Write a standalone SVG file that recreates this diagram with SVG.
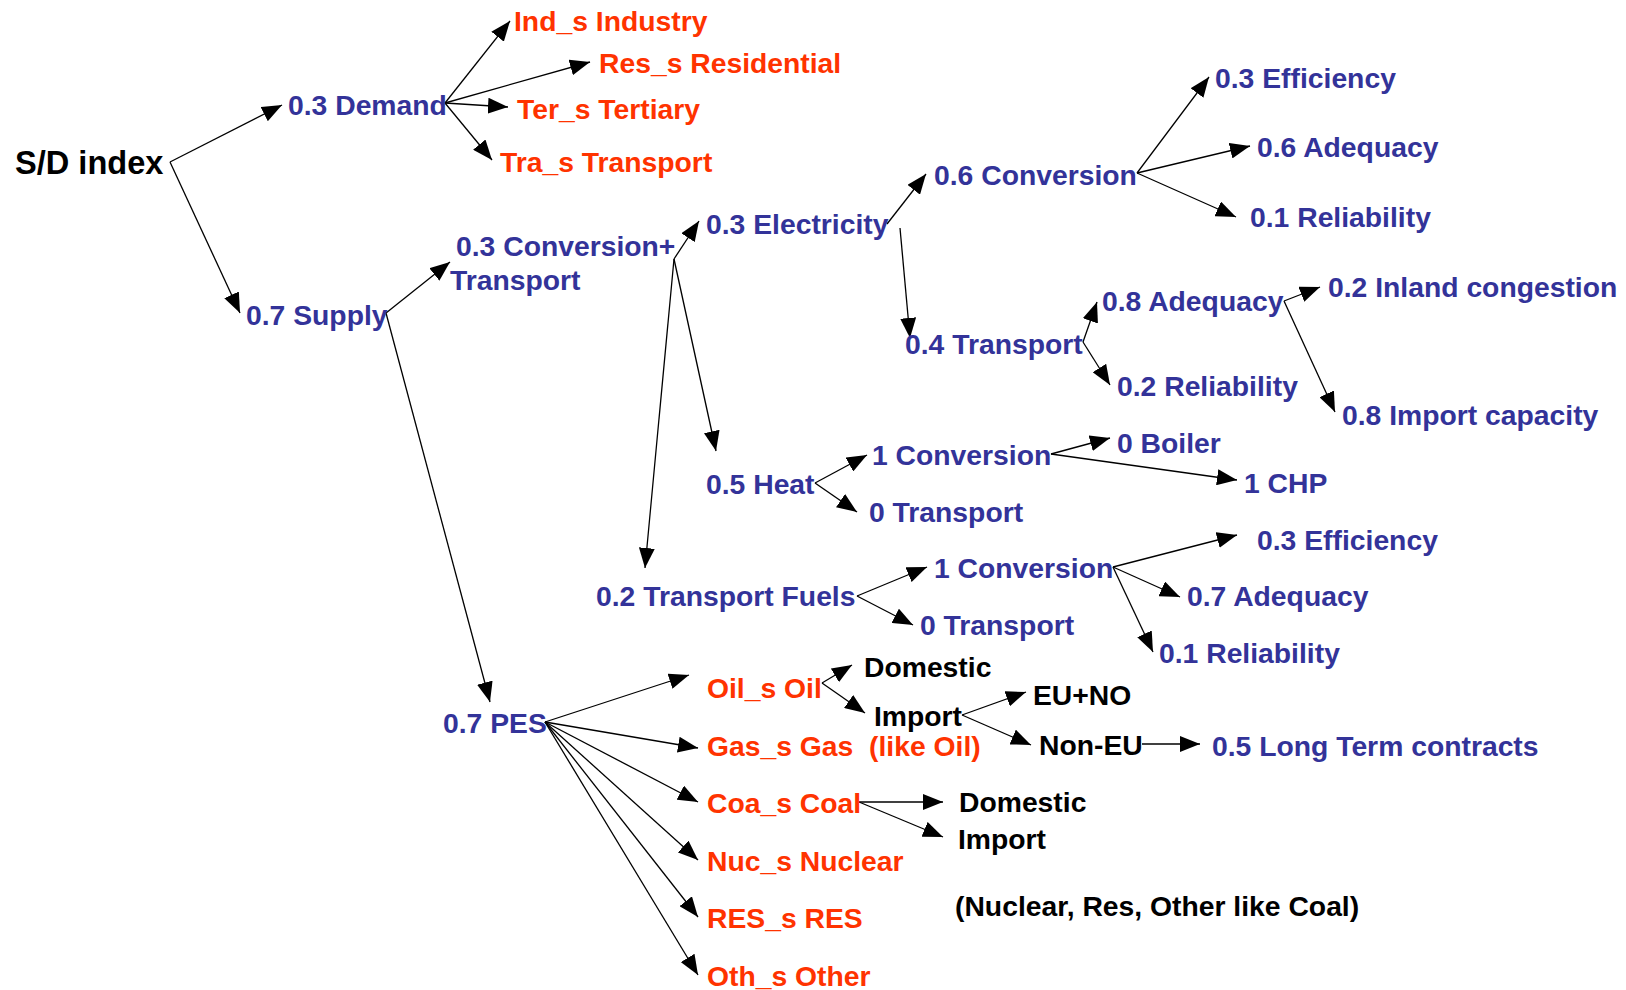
<svg xmlns="http://www.w3.org/2000/svg" width="1626" height="990" viewBox="0 0 1626 990">
<style>
text{font-family:"Liberation Sans",Arial,sans-serif;font-weight:bold;font-size:28.3px}
.b{fill:#333399}
.r{fill:#ff3300}
.k{fill:#000}
.e{stroke:#000;stroke-width:1.3;fill:none;marker-end:url(#ah)}
</style>
<defs>
<marker id="ah" markerUnits="userSpaceOnUse" markerWidth="20" markerHeight="16" refX="20" refY="8" orient="auto" viewBox="0 0 20 16">
<path d="M0,0 L20,8 L0,16 z" fill="#000"/>
</marker>
</defs>
<rect width="1626" height="990" fill="#fff"/>
<g id="connectors">
<line class="e" x1="170" y1="162" x2="282" y2="105"/>
<line class="e" x1="170" y1="162" x2="240" y2="313"/>
<line class="e" x1="445" y1="103" x2="510" y2="21"/>
<line class="e" x1="445" y1="103" x2="590" y2="62"/>
<line class="e" x1="445" y1="103" x2="508" y2="107"/>
<line class="e" x1="445" y1="103" x2="492" y2="160"/>
<line class="e" x1="386" y1="313" x2="450" y2="262"/>
<line class="e" x1="386" y1="313" x2="490" y2="702"/>
<line class="e" x1="674" y1="259" x2="699" y2="221"/>
<line class="e" x1="674" y1="259" x2="716" y2="451"/>
<line class="e" x1="674" y1="259" x2="645" y2="568"/>
<line class="e" x1="887" y1="224" x2="926" y2="174"/>
<line class="e" x1="900" y1="228" x2="910" y2="338"/>
<line class="e" x1="1137" y1="173" x2="1209" y2="77"/>
<line class="e" x1="1137" y1="173" x2="1250" y2="146"/>
<line class="e" x1="1137" y1="173" x2="1236" y2="217"/>
<line class="e" x1="1083" y1="342" x2="1097" y2="302"/>
<line class="e" x1="1083" y1="342" x2="1110" y2="385"/>
<line class="e" x1="1284" y1="301" x2="1320" y2="287"/>
<line class="e" x1="1284" y1="301" x2="1335" y2="412"/>
<line class="e" x1="815" y1="483" x2="867" y2="455"/>
<line class="e" x1="815" y1="483" x2="857" y2="512"/>
<line class="e" x1="1051" y1="454" x2="1110" y2="438"/>
<line class="e" x1="1051" y1="454" x2="1237" y2="480"/>
<line class="e" x1="857" y1="596" x2="927" y2="567"/>
<line class="e" x1="857" y1="596" x2="913" y2="625"/>
<line class="e" x1="1113" y1="567" x2="1237" y2="535"/>
<line class="e" x1="1113" y1="567" x2="1180" y2="597"/>
<line class="e" x1="1113" y1="567" x2="1153" y2="652"/>
<line class="e" x1="545" y1="722" x2="689" y2="675"/>
<line class="e" x1="545" y1="722" x2="698" y2="748"/>
<line class="e" x1="545" y1="722" x2="698" y2="802"/>
<line class="e" x1="545" y1="722" x2="698" y2="860"/>
<line class="e" x1="545" y1="722" x2="698" y2="917"/>
<line class="e" x1="545" y1="722" x2="698" y2="975"/>
<line class="e" x1="822" y1="683" x2="852" y2="665"/>
<line class="e" x1="822" y1="683" x2="865" y2="713"/>
<line class="e" x1="962" y1="715" x2="1026" y2="692"/>
<line class="e" x1="962" y1="715" x2="1031" y2="745"/>
<line class="e" x1="1142" y1="744" x2="1200" y2="744"/>
<line class="e" x1="859" y1="802" x2="943" y2="802"/>
<line class="e" x1="859" y1="802" x2="943" y2="837"/>
</g>
<g id="n-sd"><text class="k" x="15" y="174" style="font-size:32.6px">S/D index</text></g>
<g id="n-demand"><text class="b" x="288" y="115">0.3 Demand</text></g>
<g id="n-ind"><text class="r" x="514" y="31">Ind_s Industry</text></g>
<g id="n-res"><text class="r" x="599" y="73">Res_s Residential</text></g>
<g id="n-ter"><text class="r" x="517" y="119">Ter_s Tertiary</text></g>
<g id="n-tra"><text class="r" x="500" y="172">Tra_s Transport</text></g>
<g id="n-supply"><text class="b" x="246" y="325">0.7 Supply</text></g>
<g id="n-convtr"><text class="b"><tspan x="456" y="256">0.3 Conversion+</tspan><tspan x="450" y="290">Transport</tspan></text></g>
<g id="n-elec"><text class="b" x="706" y="234">0.3 Electricity</text></g>
<g id="n-econv"><text class="b" x="934" y="185">0.6 Conversion</text></g>
<g id="n-eff1"><text class="b" x="1215" y="88">0.3 Efficiency</text></g>
<g id="n-adeq1"><text class="b" x="1257" y="157">0.6 Adequacy</text></g>
<g id="n-rel1"><text class="b" x="1250" y="227">0.1 Reliability</text></g>
<g id="n-etrans"><text class="b" x="905" y="354">0.4 Transport</text></g>
<g id="n-adeq2"><text class="b" x="1102" y="311">0.8 Adequacy</text></g>
<g id="n-rel2"><text class="b" x="1117" y="396">0.2 Reliability</text></g>
<g id="n-inland"><text class="b" x="1328" y="297">0.2 Inland congestion</text></g>
<g id="n-import"><text class="b" x="1342" y="425">0.8 Import capacity</text></g>
<g id="n-heat"><text class="b" x="706" y="494">0.5 Heat</text></g>
<g id="n-hconv"><text class="b" x="872" y="465">1 Conversion</text></g>
<g id="n-htrans"><text class="b" x="869" y="522">0 Transport</text></g>
<g id="n-boiler"><text class="b" x="1117" y="453">0 Boiler</text></g>
<g id="n-chp"><text class="b" x="1244" y="493">1 CHP</text></g>
<g id="n-tf"><text class="b" x="596" y="606">0.2 Transport Fuels</text></g>
<g id="n-tfconv"><text class="b" x="934" y="578">1 Conversion</text></g>
<g id="n-tftrans"><text class="b" x="920" y="635">0 Transport</text></g>
<g id="n-eff3"><text class="b" x="1257" y="550">0.3 Efficiency</text></g>
<g id="n-adeq3"><text class="b" x="1187" y="606">0.7 Adequacy</text></g>
<g id="n-rel3"><text class="b" x="1159" y="663">0.1 Reliability</text></g>
<g id="n-pes"><text class="b" x="443" y="733">0.7 PES</text></g>
<g id="n-oil"><text class="r" x="707" y="698">Oil_s Oil</text></g>
<g id="n-oildom"><text class="k" x="864" y="677">Domestic</text></g>
<g id="n-oilimp"><text class="k" x="874" y="726">Import</text></g>
<g id="n-euno"><text class="k" x="1033" y="705">EU+NO</text></g>
<g id="n-noneu"><text class="k" x="1039" y="755">Non-EU</text></g>
<g id="n-ltc"><text class="b" x="1212" y="756">0.5 Long Term contracts</text></g>
<g id="n-gas"><text class="r" x="707" y="756" xml:space="preserve">Gas_s Gas  (like Oil)</text></g>
<g id="n-coal"><text class="r" x="707" y="813">Coa_s Coal</text></g>
<g id="n-coaldom"><text class="k" x="959" y="812">Domestic</text></g>
<g id="n-coalimp"><text class="k" x="958" y="849">Import</text></g>
<g id="n-nuc"><text class="r" x="707" y="871">Nuc_s Nuclear</text></g>
<g id="n-note"><text class="k" x="955" y="916">(Nuclear, Res, Other like Coal)</text></g>
<g id="n-res2"><text class="r" x="707" y="928">RES_s RES</text></g>
<g id="n-oth"><text class="r" x="707" y="986">Oth_s Other</text></g>
</svg>
